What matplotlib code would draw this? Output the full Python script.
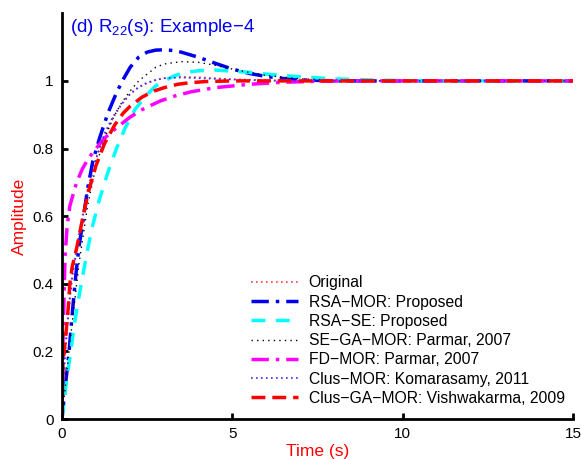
import matplotlib
matplotlib.use("Agg")
import matplotlib.pyplot as plt
import numpy as np

plt.rcParams['font.family'] = ['Liberation Sans', 'DejaVu Sans']
plt.rcParams['mathtext.fontset'] = 'custom'
plt.rcParams['mathtext.rm'] = 'Liberation Sans'
plt.rcParams['mathtext.it'] = 'Liberation Sans'

# Original (red dotted)
t_orig = [0, 0.03, 0.1, 0.2, 0.3, 0.5, 0.75, 1, 1.25, 1.5, 1.75, 2, 2.25, 2.5, 2.75, 3, 3.5, 4, 4.5, 5, 6, 7, 15]
y_orig = [0, 0.12, 0.22, 0.34, 0.43, 0.55, 0.68, 0.77, 0.84, 0.89, 0.93, 0.96, 0.98, 0.993, 1.002, 1.008, 1.012, 1.011, 1.008, 1.005, 1.002, 1.0, 1.0]

# RSA-MOR: Proposed (blue dash-dot)
t_rsa = [0, 0.1, 0.2, 0.3, 0.4, 0.5, 0.6, 0.75, 0.9, 1.1, 1.35, 1.6, 1.8, 2, 2.25, 2.5, 2.75, 3, 3.25, 3.5, 4, 4.5, 5, 5.5, 6, 6.5, 7, 8, 15]
y_rsa = [0, 0.1, 0.19, 0.31, 0.42, 0.51, 0.575, 0.68, 0.76, 0.83, 0.905, 0.965, 1.005, 1.04, 1.07, 1.085, 1.091, 1.092, 1.09, 1.085, 1.07, 1.052, 1.035, 1.022, 1.013, 1.007, 1.003, 1.0, 1.0]

# RSA-SE: Proposed (cyan dashed)
t_rsase = [0, 0.14, 0.23, 0.38, 0.46, 0.62, 0.77, 0.87, 1.1, 1.35, 1.6, 1.85, 2.14, 2.5, 2.75, 3, 3.3, 3.6, 4, 4.5, 5, 5.5, 6, 7, 8, 9, 10, 11, 15]
y_rsase = [0, 0.12, 0.18, 0.29, 0.34, 0.43, 0.51, 0.56, 0.65, 0.73, 0.80, 0.86, 0.915, 0.96, 0.985, 1.0, 1.015, 1.025, 1.03, 1.032, 1.029, 1.025, 1.02, 1.012, 1.006, 1.003, 1.001, 1.0, 1.0]

# SE-GA-MOR: Parmar, 2007 (black dotted)
t_sega = [0, 0.1, 0.25, 0.5, 0.75, 1, 1.25, 1.5, 1.75, 2, 2.25, 2.5, 2.75, 3, 3.5, 4, 4.5, 5, 5.5, 6, 7, 8, 9, 15]
y_sega = [0, 0.1, 0.24, 0.46, 0.63, 0.75, 0.83, 0.89, 0.935, 0.97, 1.0, 1.02, 1.04, 1.05, 1.057, 1.055, 1.046, 1.035, 1.025, 1.016, 1.006, 1.002, 1.0, 1.0]

# FD-MOR: Parmar, 2007 (magenta dash-dot)
t_fd = [0, 0.03, 0.09, 0.15, 0.23, 0.43, 0.6, 0.77, 1, 1.2, 1.4, 1.65, 2, 2.35, 2.87, 3.3, 3.8, 4.5, 5.5, 6.5, 7.5, 8.5, 15]
y_fd = [0, 0.23, 0.48, 0.57, 0.63, 0.70, 0.74, 0.77, 0.80, 0.825, 0.845, 0.865, 0.893, 0.915, 0.94, 0.955, 0.968, 0.98, 0.99, 0.996, 0.999, 1.0, 1.0]

# Clus-MOR: Komarasamy, 2011 (blue dotted)
t_clus = [0, 0.05, 0.1, 0.2, 0.3, 0.5, 0.75, 1, 1.25, 1.5, 1.75, 2, 2.25, 2.5, 2.75, 3, 3.5, 4, 5, 6, 7, 15]
y_clus = [0, 0.12, 0.2, 0.32, 0.42, 0.54, 0.67, 0.77, 0.845, 0.895, 0.932, 0.962, 0.982, 0.995, 1.003, 1.008, 1.01, 1.008, 1.004, 1.001, 1.0, 1.0]

# Clus-GA-MOR: Vishwakarma, 2009 (red dashed)
t_clusga = [0, 0.03, 0.09, 0.14, 0.19, 0.23, 0.3, 0.43, 0.6, 0.77, 1, 1.25, 1.55, 1.8, 2, 2.35, 2.7, 3, 3.4, 3.7, 4.2, 5, 15]
y_clusga = [0, 0.17, 0.225, 0.28, 0.337, 0.40, 0.45, 0.505, 0.59, 0.67, 0.75, 0.815, 0.87, 0.905, 0.925, 0.952, 0.97, 0.98, 0.99, 0.994, 0.998, 1.0, 1.0]

labels = ["Original", "RSA\u2212MOR: Proposed", "RSA\u2212SE: Proposed",
          "SE\u2212GA\u2212MOR: Parmar, 2007", "FD\u2212MOR: Parmar, 2007",
          "Clus\u2212MOR: Komarasamy, 2011", "Clus\u2212GA\u2212MOR: Vishwakarma, 2009"]

xticks = [0, 5, 10, 15]
yticks = [0, 0.2, 0.4, 0.6, 0.8, 1]

fig = plt.figure(figsize=(5.82, 4.59), dpi=100)
ax = fig.add_axes([0.1065, 0.0871, 0.8780, 0.884])

ax.plot(t_orig, y_orig, color='#ff4040', ls=(0, (1, 2)), lw=1.2, label=labels[0])
ax.plot(t_rsa, y_rsa, color='#0000ee', ls=(0, (5, 2, 1, 2)), lw=2.5, label=labels[1])
ax.plot(t_rsase, y_rsase, color='cyan', ls=(0, (4, 3)), lw=2.5, label=labels[2])
ax.plot(t_sega, y_sega, color='black', ls=(0, (1, 3)), lw=1.0, label=labels[3])
ax.plot(t_fd, y_fd, color='magenta', ls=(0, (5, 2, 1, 2)), lw=2.5, label=labels[4])
ax.plot(t_clus, y_clus, color='#3030ff', ls=(0, (1, 2)), lw=1.2, label=labels[5])
ax.plot(t_clusga, y_clusga, color='red', ls=(0, (4, 2)), lw=2.5, label=labels[6])

ax.set_xlim(0, 15)
ax.set_ylim(0, 1.2)
ax.set_xticks(xticks)
ax.set_xticklabels([str(v) for v in xticks])
ax.set_yticks(yticks)
ax.set_yticklabels(['0', '0.2', '0.4', '0.6', '0.8', '1'])
ax.spines['top'].set_visible(False)
ax.spines['right'].set_visible(False)
ax.spines['left'].set_linewidth(2)
ax.spines['bottom'].set_linewidth(2)
ax.tick_params(direction='in', length=4, width=2, labelsize=11, pad=6)

ax.set_xlabel('Time (s)', color='red', fontsize=12.5, labelpad=2)
ax.set_ylabel('Amplitude', color='red', fontsize=12.5, labelpad=4)

ax.text(0.015, 0.99, r'(d) R$_{22}$(s): Example$-$4', transform=ax.transAxes,
        color='#0000ee', fontsize=13.5, va='top', ha='left')

leg = ax.legend(loc='lower right', bbox_to_anchor=(0.996, 0.017), frameon=False, fontsize=11.3,
                handlelength=3.0, handletextpad=0.65, labelspacing=0.27, borderaxespad=0.0,
                borderpad=0.4)

fig.savefig('out.png', dpi=100)
